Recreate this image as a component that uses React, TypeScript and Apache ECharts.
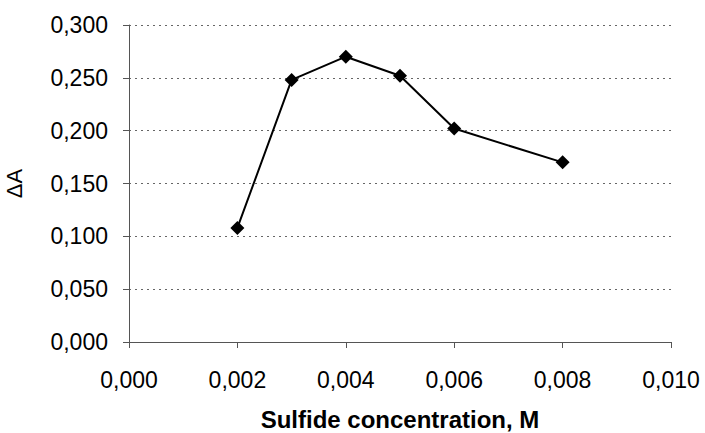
import React, { useEffect, useRef } from "react";
import * as echarts from "echarts";

const concentrations = [0.002, 0.003, 0.004, 0.005, 0.006, 0.008];
const deltaA = [0.108, 0.248, 0.27, 0.252, 0.202, 0.17];
const xName = "Sulfide concentration, M";
const yName = "ΔA";

const fmt = (v: number) => v.toFixed(3).replace(".", ",");

export default function App() {
  const ref = useRef<HTMLDivElement>(null);
  useEffect(() => {
    if (!ref.current) return;
    const chart = echarts.init(ref.current, undefined, { renderer: "svg" });
    chart.setOption({
      animation: false,
      backgroundColor: "#ffffff",
      textStyle: { fontFamily: "Liberation Sans, Arial, sans-serif" },
      grid: { left: 129, right: 34, top: 25, bottom: 91, containLabel: false, outerBoundsMode: "none" },
      xAxis: {
        type: "value",
        min: 0,
        max: 0.01,
        interval: 0.002,
        name: xName,
        nameLocation: "middle",
        nameGap: 65,
        nameTextStyle: { fontSize: 24, fontWeight: "bold", color: "#000" },
        axisLine: { show: true, onZero: false, lineStyle: { color: "#555", width: 1 } },
        axisTick: { show: true, inside: false, length: 6, lineStyle: { color: "#555" } },
        axisLabel: { fontSize: 23, color: "#000", margin: 26, formatter: fmt },
        splitLine: { show: false },
      },
      yAxis: {
        type: "value",
        min: 0,
        max: 0.3,
        interval: 0.05,
        name: yName,
        nameLocation: "middle",
        nameGap: 104,
        nameTextStyle: { fontSize: 22, color: "#000" },
        axisLine: { show: true, lineStyle: { color: "#555", width: 1 } },
        axisTick: { show: true, inside: false, length: 6, lineStyle: { color: "#555" } },
        axisLabel: { fontSize: 23, color: "#000", margin: 21, formatter: fmt },
        splitLine: { show: true, lineStyle: { color: "#666", type: [2, 4], width: 1 } },
      },
      series: [
        {
          type: "line",
          data: concentrations.map((x, i) => [x, deltaA[i]]),
          symbol: "diamond",
          symbolSize: 14,
          itemStyle: { color: "#000" },
          lineStyle: { color: "#000", width: 2 },
        },
      ],
    });
    return () => chart.dispose();
  }, []);
  return <div ref={ref} style={{ width: 705, height: 433, position: "absolute", left: 0, top: 0 }} />;
}
